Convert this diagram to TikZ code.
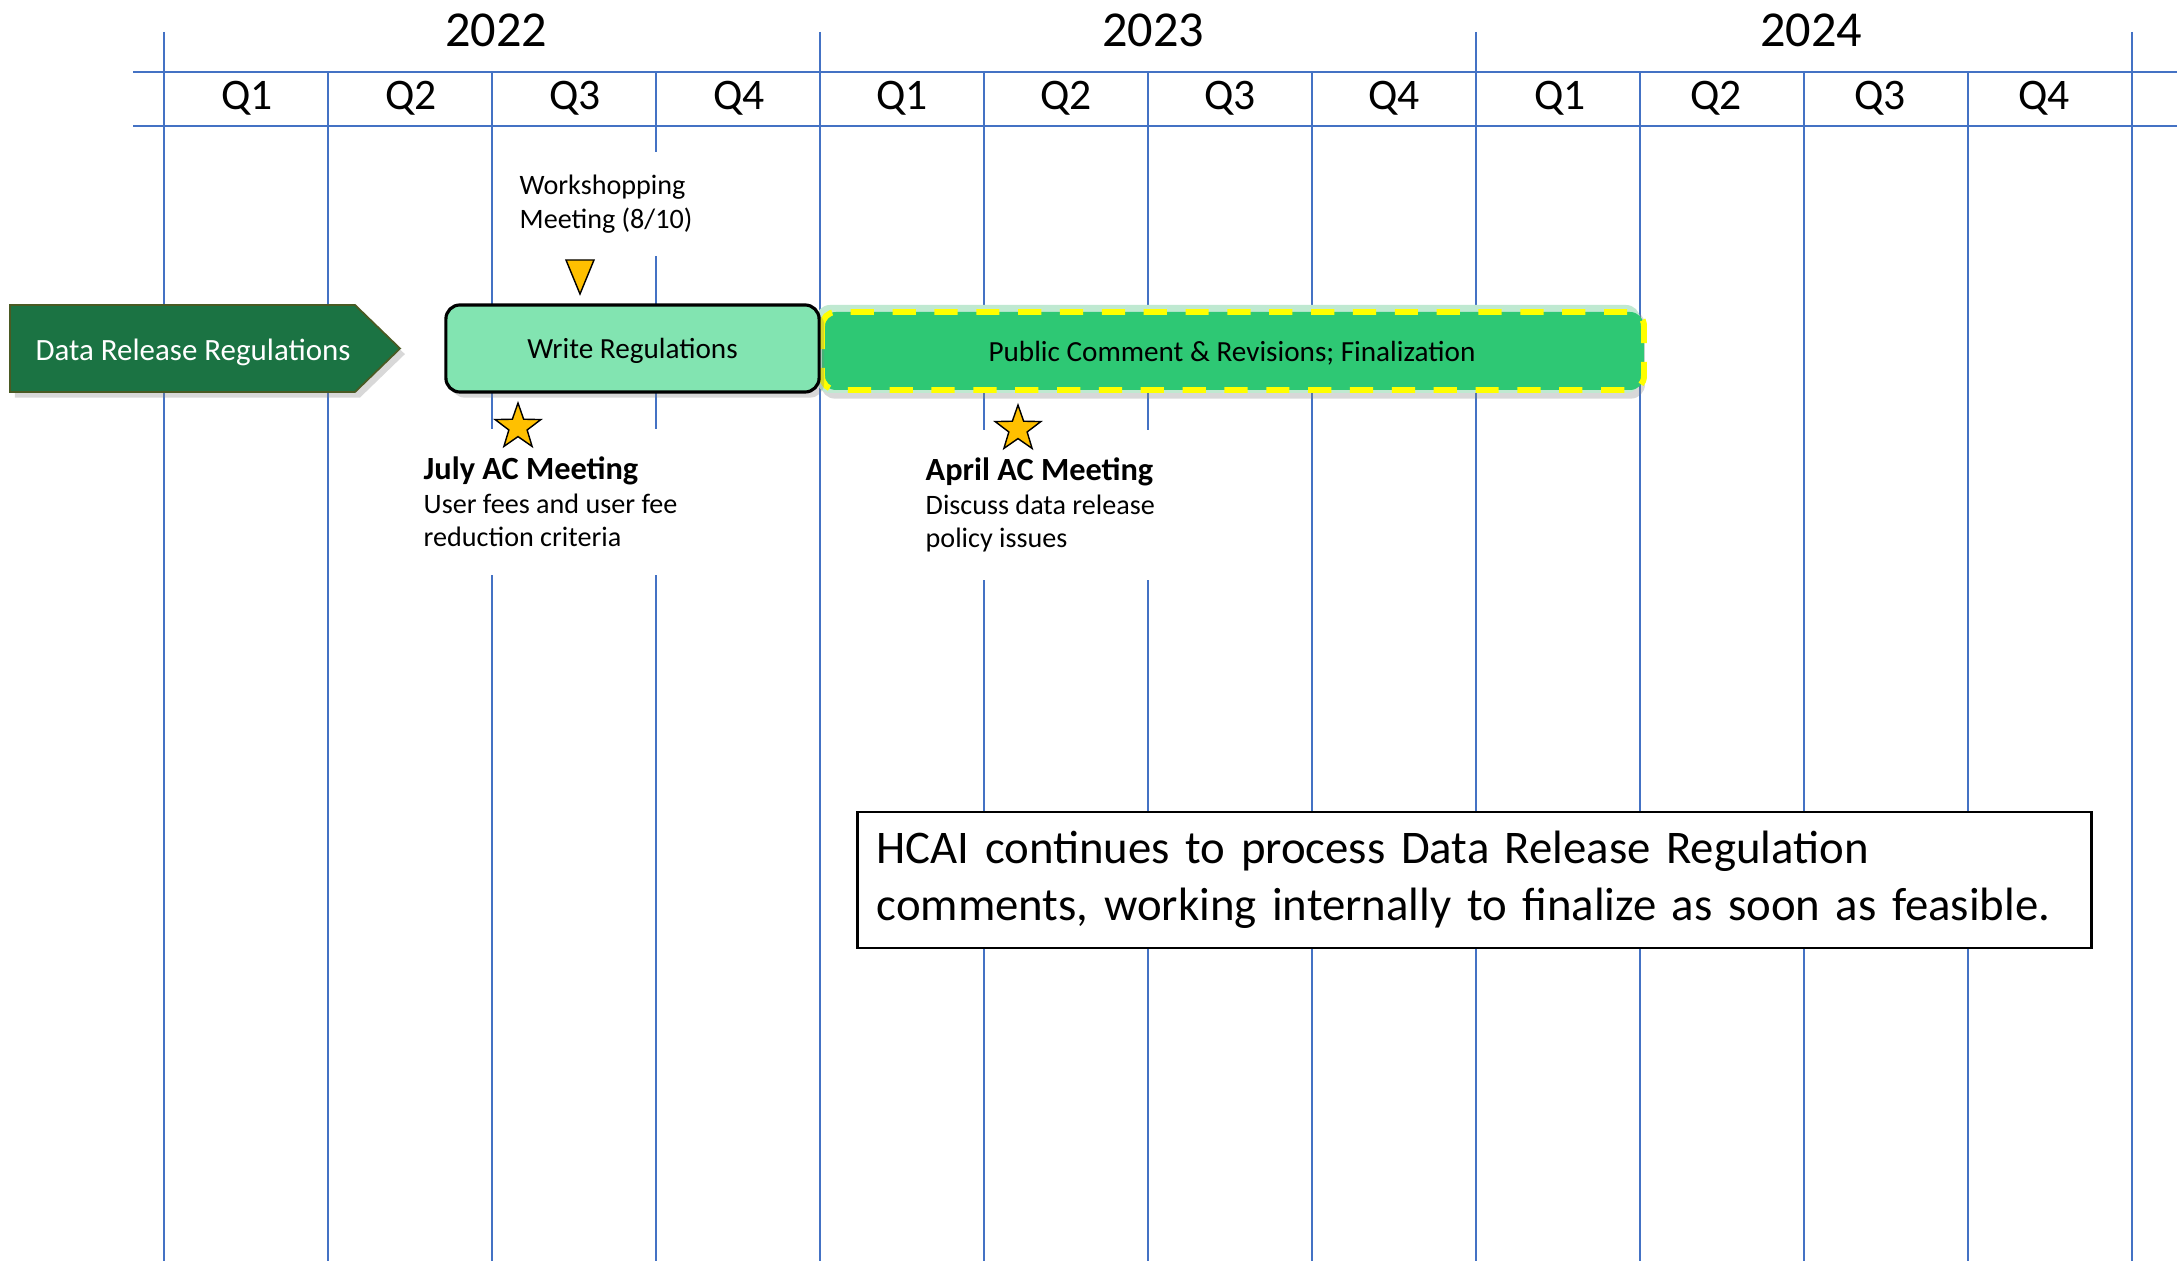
\documentclass[tikz,border=0pt]{standalone}
\usepackage{fontspec}
\setmainfont{Carlito}
\usetikzlibrary{shapes.geometric,shadows}

\definecolor{gridblue}{HTML}{4472C4}
\definecolor{darkgreen}{HTML}{1B7343}
\definecolor{arrowedge}{HTML}{4A5A23}
\definecolor{lightgreen}{HTML}{82E4B1}
\definecolor{midgreen}{HTML}{2EC874}
\definecolor{glowgreen}{HTML}{BFE9D1}
\definecolor{gold}{HTML}{FFC000}
\definecolor{dashyellow}{HTML}{FFFF00}

\begin{document}
\begin{tikzpicture}[x=0.01cm,y=-0.01cm,
  gridline/.style={gridblue,line width=0.4pt},
  quarter/.style={font=\fontsize{12.4}{14}\selectfont},
  year/.style={font=\fontsize{14.3}{16}\selectfont},
  note/.style={fill=white,align=left,anchor=west,inner xsep=0.06cm,font=\fontsize{8}{9.5}\selectfont},
  milestone/.style={star,star points=5,star point ratio=2.5,draw=black,line width=0.4pt,fill=gold,minimum size=0.48cm,inner sep=0pt},
  boxshadow/.style={drop shadow={shadow xshift=1.4pt,shadow yshift=-1.6pt,opacity=0.3}}]

\useasboundingbox (0,0) rectangle (2177,1261);
\fill[white] (0,0) rectangle (2177,1261);

\draw[gridline] (133,72) -- (2177,72);
\draw[gridline] (133,126) -- (2177,126);

\draw[gridline] (164,32) -- (164,1261);
\draw[gridline] (328,72) -- (328,1261);
\draw[gridline] (492,72) -- (492,1261);
\draw[gridline] (656,72) -- (656,1261);
\draw[gridline] (820,32) -- (820,1261);
\draw[gridline] (984,72) -- (984,1261);
\draw[gridline] (1148,72) -- (1148,1261);
\draw[gridline] (1312,72) -- (1312,1261);
\draw[gridline] (1476,32) -- (1476,1261);
\draw[gridline] (1640,72) -- (1640,1261);
\draw[gridline] (1804,72) -- (1804,1261);
\draw[gridline] (1968,72) -- (1968,1261);
\draw[gridline] (2132,32) -- (2132,1261);

\node[year] (y2022) at (496,30) {2022};
\node[year] (y2023) at (1153,30) {2023};
\node[year] (y2024) at (1811,30) {2024};

\node[quarter] (q1a) at (247,98) {Q1};
\node[quarter] (q2a) at (411,98) {Q2};
\node[quarter] (q3a) at (575,98) {Q3};
\node[quarter] (q4a) at (739,98) {Q4};
\node[quarter] (q1b) at (902,98) {Q1};
\node[quarter] (q2b) at (1066,98) {Q2};
\node[quarter] (q3b) at (1230,98) {Q3};
\node[quarter] (q4b) at (1394,98) {Q4};
\node[quarter] (q1c) at (1560,98) {Q1};
\node[quarter] (q2c) at (1716,98) {Q2};
\node[quarter] (q3c) at (1880,98) {Q3};
\node[quarter] (q4c) at (2044,98) {Q4};

\draw[arrowedge,fill=darkgreen,line width=0.5pt,boxshadow] (10,305) -- (355,305) -- (400,348.5) -- (355,392) -- (10,392) -- cycle;
\node[white,font=\fontsize{8.8}{10}\selectfont] (drr) at (193,352) {Data Release Regulations};

\fill[glowgreen,rounded corners=0.14cm,boxshadow] (816,305) rectangle (1640,393);
\draw[dashyellow,fill=midgreen,line width=1.7pt,dash pattern=on 6.6pt off 5.3pt,rounded corners=0.14cm] (822,312) rectangle (1644,390);
\node[font=\fontsize{8.3}{10}\selectfont] (pubcom) at (1232,353) {Public Comment \& Revisions; Finalization};

\node[draw=black,line width=0.9pt,fill=lightgreen,rounded corners=0.14cm,minimum width=3.73cm,minimum height=0.87cm,text depth=0pt,boxshadow,font=\fontsize{8.3}{10}\selectfont] (write) at (632.5,348.5) {Write Regulations};

\node[note,inner xsep=0.12cm,minimum height=1.04cm] (shop) at (507,204) {Workshopping\\Meeting (8/10)};
\draw[fill=gold,line width=0.4pt] (566,260) -- (594,260) -- (580,294) -- cycle;

\node[note,minimum height=1.46cm] (july) at (417,502) {{\bfseries\fontsize{9.2}{11}\selectfont July AC Meeting}\\User fees and user fee\\reduction criteria};
\node[note,minimum height=1.49cm] (april) at (919,505) {{\bfseries\fontsize{9.2}{11}\selectfont April AC Meeting}\\Discuss data release\\policy issues};

\node[milestone] (julystar) at (518,427) {};
\node[milestone] (aprilstar) at (1018,429) {};

\node[draw=black,line width=0.8pt,fill=white,text width=11.95cm,inner xsep=0.19cm,minimum height=1.36cm,align=left,font=\fontsize{13.3}{16.3}\selectfont] (hcai) at (1474.5,880) {HCAI continues to process Data Release Regulation\\comments, working internally to finalize as soon as feasible.};

\end{tikzpicture}
\end{document}
